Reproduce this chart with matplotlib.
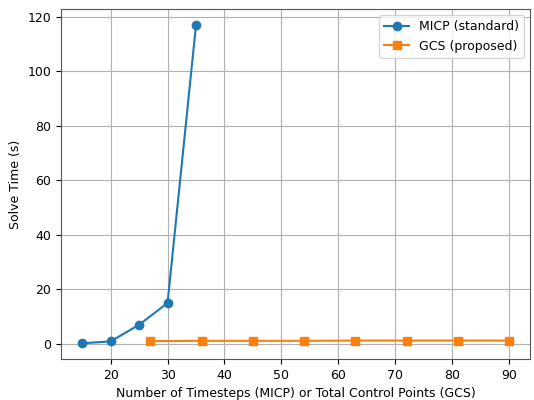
import matplotlib
matplotlib.use("Agg")
import matplotlib.pyplot as plt

plt.rcParams["font.size"] = 9

# data
micp_x = [15, 20, 25, 30, 35]
micp_y = [0.2, 0.9, 7.0, 15.0, 117.0]
gcs_x = [27, 36, 45, 54, 63, 72, 81, 90]
gcs_y = [1.0, 1.1, 1.1, 1.1, 1.2, 1.2, 1.2, 1.2]

fig, ax = plt.subplots(figsize=(5.34, 4.0), dpi=100)
ax.plot(micp_x, micp_y, marker="o", color="#1f77b4", label="MICP (standard)")
ax.plot(gcs_x, gcs_y, marker="s", color="#ff7f0e", label="GCS (proposed)")
ax.set_xlabel("Number of Timesteps (MICP) or Total Control Points (GCS)")
ax.set_ylabel("Solve Time (s)")
ax.grid(True)
for s in ax.spines.values():
    s.set_color("#555555")
ax.legend(loc="upper right")
fig.subplots_adjust(left=0.114, right=0.993, top=0.977, bottom=0.102)
fig.savefig("out.png", dpi=100)
